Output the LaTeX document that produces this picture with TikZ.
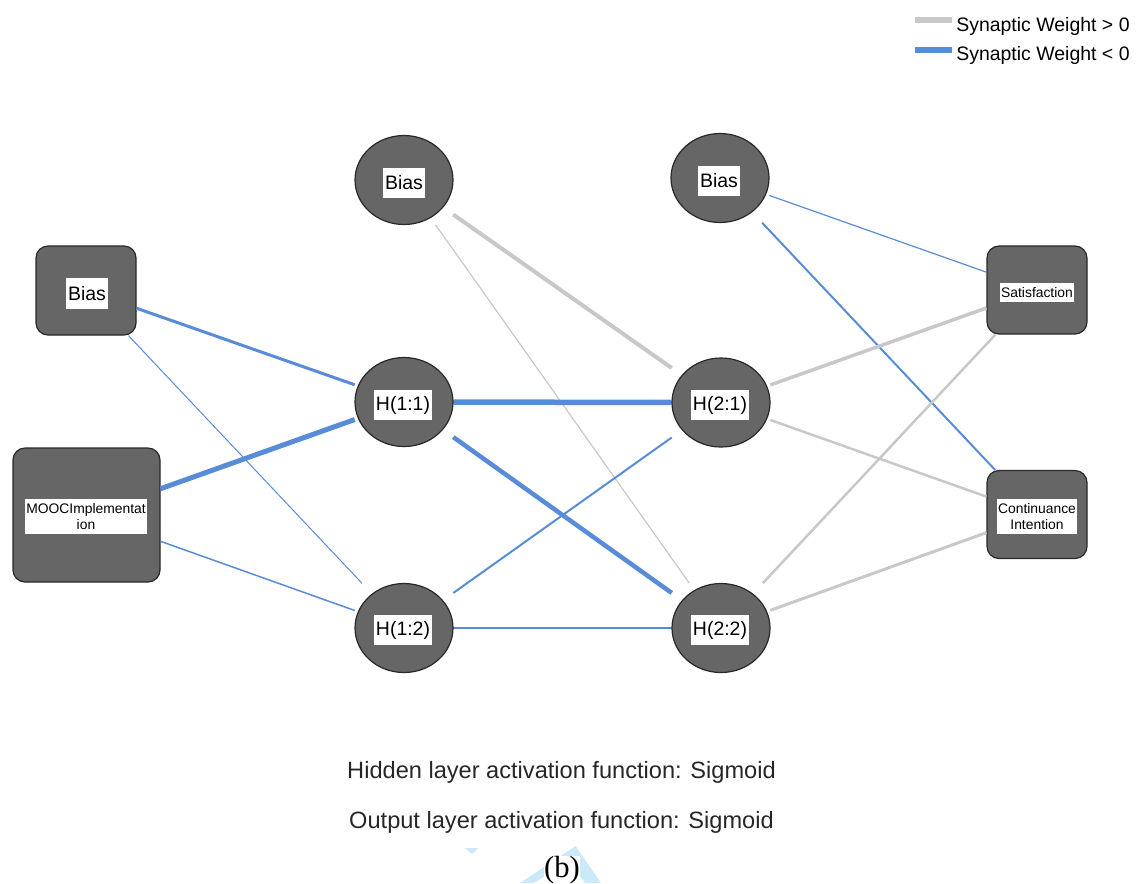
\documentclass[tikz,border=0pt]{standalone}
\usepackage{fontspec}
\setmainfont{Liberation Sans}
\newfontfamily\captionserif{Liberation Serif}
\usetikzlibrary{shapes.geometric}

\definecolor{pos}{RGB}{200,200,200}
\definecolor{neg}{RGB}{88,140,216}
\definecolor{unit}{RGB}{102,102,102}
\definecolor{unitline}{RGB}{40,40,40}
\definecolor{tint}{RGB}{204,233,249}

\begin{document}
\begin{tikzpicture}[x=0.75pt,y=-0.75pt,
  iobox/.style={rectangle, draw=unitline, line width=0.9pt, fill=unit,
    rounded corners=9pt, inner sep=0pt},
  hidframe/.style={rectangle, minimum width=73.5pt, minimum height=66.75pt, inner sep=0pt},
  hidunit/.style={ellipse, draw=unitline, line width=0.9pt, fill=unit,
    minimum width=73.5pt, minimum height=66.75pt, inner sep=0pt},
  biglbl/.style={fill=white, font=\fontsize{14.6}{16}\selectfont,
    inner xsep=1.2pt, inner ysep=0pt, minimum height=23pt},
  smalllbl/.style={fill=white, font=\fontsize{10.4}{12}\selectfont,
    inner xsep=1pt, inner ysep=3pt, align=center},
  wpos/.style={draw=pos, line width=#1*0.75pt},
  wneg/.style={draw=neg, line width=#1*0.75pt},
  legtext/.style={anchor=base west, font=\fontsize{14.6}{16}\selectfont, inner sep=0pt},
  foot/.style={anchor=base, font=\fontsize{17.7}{20}\selectfont, text=black!85, inner sep=0pt},
]
\useasboundingbox (0,0) rectangle (1137,883);

% ---- input layer
\node[iobox, minimum width=75pt, minimum height=66.75pt] (bin) at (86,290.5) {};
\node[iobox, minimum width=110.25pt, minimum height=100.5pt] (mooc) at (86.5,515) {};

% ---- hidden layers (frames used as connector ends)
\node[hidframe] (bh1) at (404,180) {};
\node[hidframe] (h11) at (404,402) {};
\node[hidframe] (h12) at (404,628) {};
\node[hidframe] (bh2) at (720,178) {};
\node[hidframe] (h21) at (721,402.5) {};
\node[hidframe] (h22) at (721,628) {};

% ---- output layer
\node[iobox, minimum width=75pt, minimum height=66pt] (sat) at (1037,290) {};
\node[iobox, minimum width=75pt, minimum height=66pt] (cont) at (1037,514.5) {};

% ---- synaptic weights
\draw[wneg=3]   (bin)  -- (h11);
\draw[wneg=1]   (bin)  -- (h12);
\draw[wneg=5]   (mooc) -- (h11);
\draw[wneg=1.5] (mooc) -- (h12);

\draw[wpos=4]   (bh1) -- (h21);
\draw[wpos=1.2] (bh1) -- (h22);
\draw[wneg=5.5] (h11) -- (h21);
\draw[wneg=4.5] (h11) -- (h22);
\draw[wneg=2]   (h12) -- (h21);
\draw[wneg=2]   (h12) -- (h22);

\draw[wneg=1.2] (bh2) -- (sat);
\draw[wneg=2]   (bh2) -- (cont);
\draw[wpos=3.5] (h21) -- (sat);
\draw[wpos=2.5] (h21) -- (cont);
\draw[wpos=2.5] (h22) -- (sat);
\draw[wpos=3]   (h22) -- (cont);

% ---- hidden units
\node[hidunit] (bh1u) at (bh1) {};
\node[hidunit] (h11u) at (h11) {};
\node[hidunit] (h12u) at (h12) {};
\node[hidunit] (bh2u) at (bh2) {};
\node[hidunit] (h21u) at (h21) {};
\node[hidunit] (h22u) at (h22) {};

% ---- unit labels
\node[biglbl] (binl)  at (87,293.5) {Bias};
\node[smalllbl] (moocl) at (86,516.5) {MOOCImplementat\\ion};
\node[biglbl] (bh1l) at (404,183) {Bias};
\node[biglbl] (h11l) at (403,405) {H(1:1)};
\node[biglbl] (h12l) at (403,630) {H(1:2)};
\node[biglbl] (bh2l) at (719,181) {Bias};
\node[biglbl] (h21l) at (720,405) {H(2:1)};
\node[biglbl] (h22l) at (720,630) {H(2:2)};
\node[smalllbl] (satl)  at (1037,292.5) {Satisfaction};
\node[smalllbl] (contl) at (1037,516.5) {Continuance\\Intention};

% ---- legend
\coordinate (lp0) at (915,20);  \coordinate (lp1) at (952,20);
\coordinate (ln0) at (915,50);  \coordinate (ln1) at (952,50);
\draw[wpos=5.5] (lp0) -- (lp1);
\draw[wneg=5.5] (ln0) -- (ln1);
\node[legtext] (legpos) at (956,31) {Synaptic Weight > 0};
\node[legtext] (legneg) at (956,60) {Synaptic Weight < 0};

% ---- activation notes
\node[foot] (hidfn) at (561.5,778) {Hidden layer activation function: Sigmoid};
\node[foot] (outfn) at (561.5,828.5) {Output layer activation function: Sigmoid};

% ---- faint tinted triangle outline behind the panel letter
\fill[tint] (465,848) -- (478,848) -- (472,854) -- cycle;
\fill[tint, even odd rule]
  (575.6,846) -- (601,883) -- (520,883) -- cycle
  (569,860.7) -- (585,883) -- (534,883) -- cycle;

\node[anchor=base, font=\captionserif\fontsize{23}{24}\selectfont,
      fill=white, inner sep=0pt] (panel) at (562,877) {(b)};
\end{tikzpicture}
\end{document}
